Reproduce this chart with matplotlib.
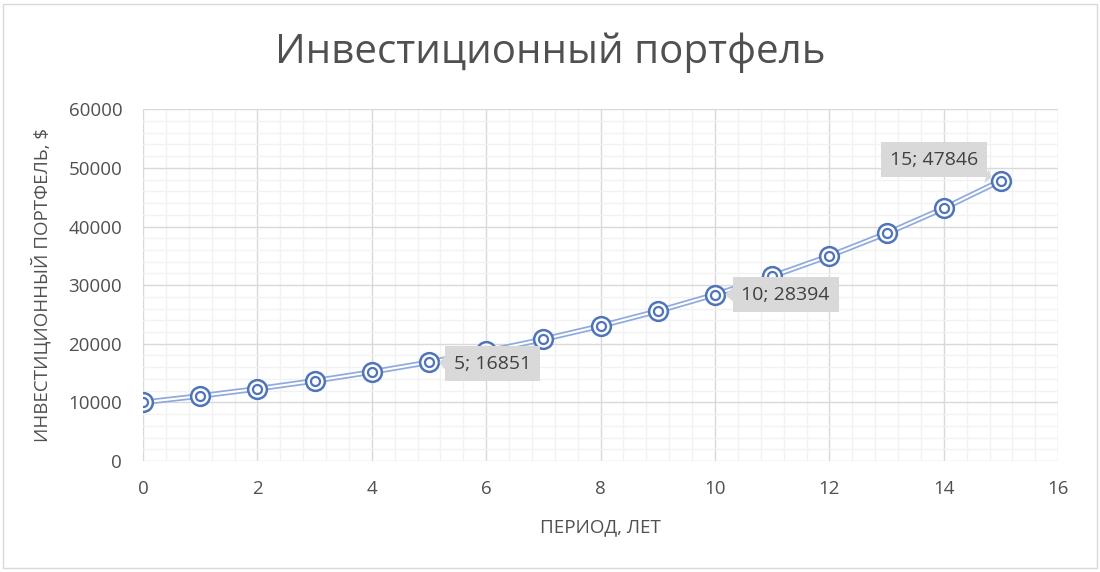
import matplotlib
matplotlib.use("Agg")
import matplotlib.pyplot as plt
from matplotlib.ticker import MultipleLocator
from matplotlib.patches import Rectangle

years = [0, 1, 2, 3, 4, 5, 6, 7, 8, 9, 10, 11, 12, 13, 14, 15]
portfolio = [10000, 11100, 12321, 13676, 15181, 16851, 18704, 20762,
             23045, 25580, 28394, 31518, 34985, 38833, 43104, 47846]
labelled = [5, 10, 15]

title = "Инвестиционный портфель"
xlabel = "ПЕРИОД, ЛЕТ"
ylabel = "ИНВЕСТИЦИОННЫЙ ПОРТФЕЛЬ, $"

plt.rcParams['font.family'] = ['Open Sans', 'DejaVu Sans']

fig = plt.figure(figsize=(11, 5.72), dpi=100)
fig.patches.append(Rectangle((0.003, 0.007), 0.994, 0.986, transform=fig.transFigure,
                             fill=False, edgecolor='#D9D9D9', linewidth=1))
ax = fig.add_axes([0.130, 0.194, 0.832, 0.615])

ax.set_xlim(0, 16)
ax.set_ylim(0, 60000)
ax.xaxis.set_major_locator(MultipleLocator(2))
ax.xaxis.set_minor_locator(MultipleLocator(0.4))
ax.yaxis.set_major_locator(MultipleLocator(10000))
ax.yaxis.set_minor_locator(MultipleLocator(2000))
ax.grid(which='minor', color='#F2F2F2', linewidth=1)
ax.grid(which='major', color='#D9D9D9', linewidth=1)
ax.set_axisbelow(True)
for s in ax.spines.values():
    s.set_visible(False)
ax.tick_params(which='both', length=0, labelsize=13.5, labelcolor='#505050')
ax.tick_params(axis='y', pad=15)
ax.tick_params(axis='x', pad=14)

blue = '#4F74BA'
ax.plot(years, portfolio, color='#8FAADC', linewidth=4, zorder=3, solid_capstyle='round')
ax.plot(years, portfolio, color='white', linewidth=1.5, zorder=4)
ax.plot(years, portfolio, linestyle='none', marker='o', markersize=13.5,
        markerfacecolor='white', markeredgecolor=blue, markeredgewidth=1.8, zorder=5)
ax.plot(years, portfolio, linestyle='none', marker='o', markersize=6.5,
        markerfacecolor='white', markeredgecolor=blue, markeredgewidth=1.6, zorder=6)

offsets = {5: (18, -1), 10: (19, 0), 15: (-80, 15)}
for yr in labelled:
    v = portfolio[years.index(yr)]
    ax.annotate(f"{yr}; {v}", xy=(yr, v), xytext=offsets[yr], textcoords='offset points',
                fontsize=14, color='#404040', ha='left', va='center',
                bbox=dict(boxstyle='square,pad=0.45', facecolor='#D9D9D9', edgecolor='none'),
                arrowprops=dict(arrowstyle='wedge,tail_width=0.6', color='#D9D9D9',
                                shrinkA=0, shrinkB=8), zorder=7)

ax.set_xlabel(xlabel, fontsize=13.5, color='#505050', labelpad=14)
ax.set_ylabel(ylabel, fontsize=13.5, color='#505050', labelpad=12)
fig.text(0.5, 0.908, title, ha='center', va='center', fontsize=29, color='#505050')

fig.savefig('out.png', dpi=100)
